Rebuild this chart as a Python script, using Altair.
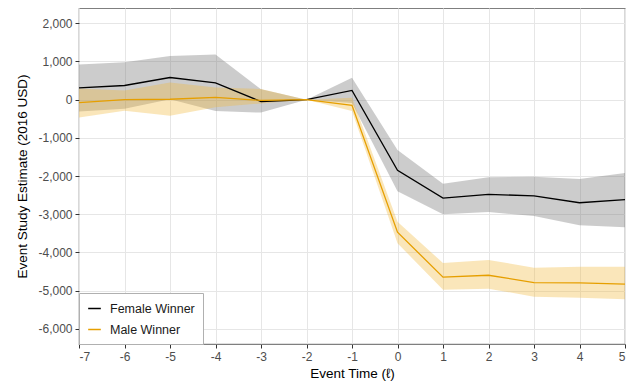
import altair as alt
import pandas as pd

event_time = [-7, -6, -5, -4, -3, -2, -1, 0, 1, 2, 3, 4, 5]

female_est = [310, 370, 580, 440, -50, 0, 240, -1850, -2580, -2480, -2520, -2700, -2620]
female_lo = [-310, -240, 10, -300, -340, 0, -90, -2400, -3000, -2940, -3050, -3290, -3340]
female_hi = [920, 980, 1140, 1180, 270, 0, 570, -1320, -2200, -2030, -2020, -2080, -1920]

male_est = [-80, 0, 10, 60, -20, 0, -150, -3470, -4650, -4600, -4790, -4800, -4830]
male_lo = [-470, -290, -420, -200, -100, 0, -300, -3760, -4980, -4950, -5160, -5190, -5230]
male_hi = [290, 240, 450, 320, 280, 0, 50, -3200, -4280, -4200, -4400, -4380, -4380]

groups = ["Female Winner", "Male Winner"]
colors = ["#000000", "#E69F00"]
band_colors = ["#6e6e6e", "#F0B73A"]

rows = []
for g, est, lo, hi in [(groups[0], female_est, female_lo, female_hi),
                       (groups[1], male_est, male_lo, male_hi)]:
    for t, e, l, h in zip(event_time, est, lo, hi):
        rows.append({"t": t, "est": e, "lo": l, "hi": h, "group": g})
df = pd.DataFrame(rows)

font = "Liberation Sans"
hyphen = "replace(datum.label, '\u2212', '-')"

x = alt.X("t:Q", title="Event Time (ℓ)",
          scale=alt.Scale(domain=[-7, 5], nice=False, zero=False),
          axis=alt.Axis(values=list(range(-7, 6)), format="d", labelExpr=hyphen))
y_scale = alt.Scale(domain=[-6400, 2400], nice=False, zero=False)
y_axis = alt.Axis(values=[-6000, -5000, -4000, -3000, -2000, -1000, 0, 1000, 2000],
                  format=",d", labelExpr=hyphen)


def band(i):
    return alt.Chart(df).transform_filter(
        alt.datum.group == groups[i]
    ).mark_area(opacity=0.35, color=band_colors[i]).encode(
        x=x,
        y=alt.Y("lo:Q", scale=y_scale, axis=y_axis, title="Event Study Estimate (2016 USD)"),
        y2="hi:Q",
    )


lines = alt.Chart(df).mark_line(strokeWidth=1.3).encode(
    x=x,
    y=alt.Y("est:Q", scale=y_scale),
    color=alt.Color("group:N", scale=alt.Scale(domain=groups, range=colors),
                    legend=alt.Legend(title=None, orient="bottom-left", offset=0,
                                      symbolType="stroke", symbolSize=160,
                                      symbolStrokeWidth=1.5,
                                      labelFontSize=12.5, labelFont=font, labelColor="#1a1a1a",
                                      strokeColor="#b0b0b0", fillColor="white",
                                      padding=8, rowPadding=7, symbolOffset=0,
                                      labelOffset=8)),
)

chart = (band(0) + band(1) + lines).properties(
    width=546, height=336,
    autosize=alt.AutoSizeParams(type="none"),
    padding={"left": 71, "top": 0, "right": 6, "bottom": 37},
).configure_view(
    stroke="#7f7f7f", strokeWidth=1.2
).configure_axis(
    labelFont=font, titleFont=font, labelFontSize=12, labelColor="#4d4d4d",
    titleFontSize=13.5, titleColor="#000000", titleFontWeight="normal",
    gridColor="#e6e6e6", gridWidth=1, tickColor="#333333", tickSize=4,
    domain=False, labelPadding=3,
).configure_axisY(titlePadding=8).configure_axisX(titlePadding=4)

chart.save("out.html", embed_options={"renderer": "svg", "actions": False})
